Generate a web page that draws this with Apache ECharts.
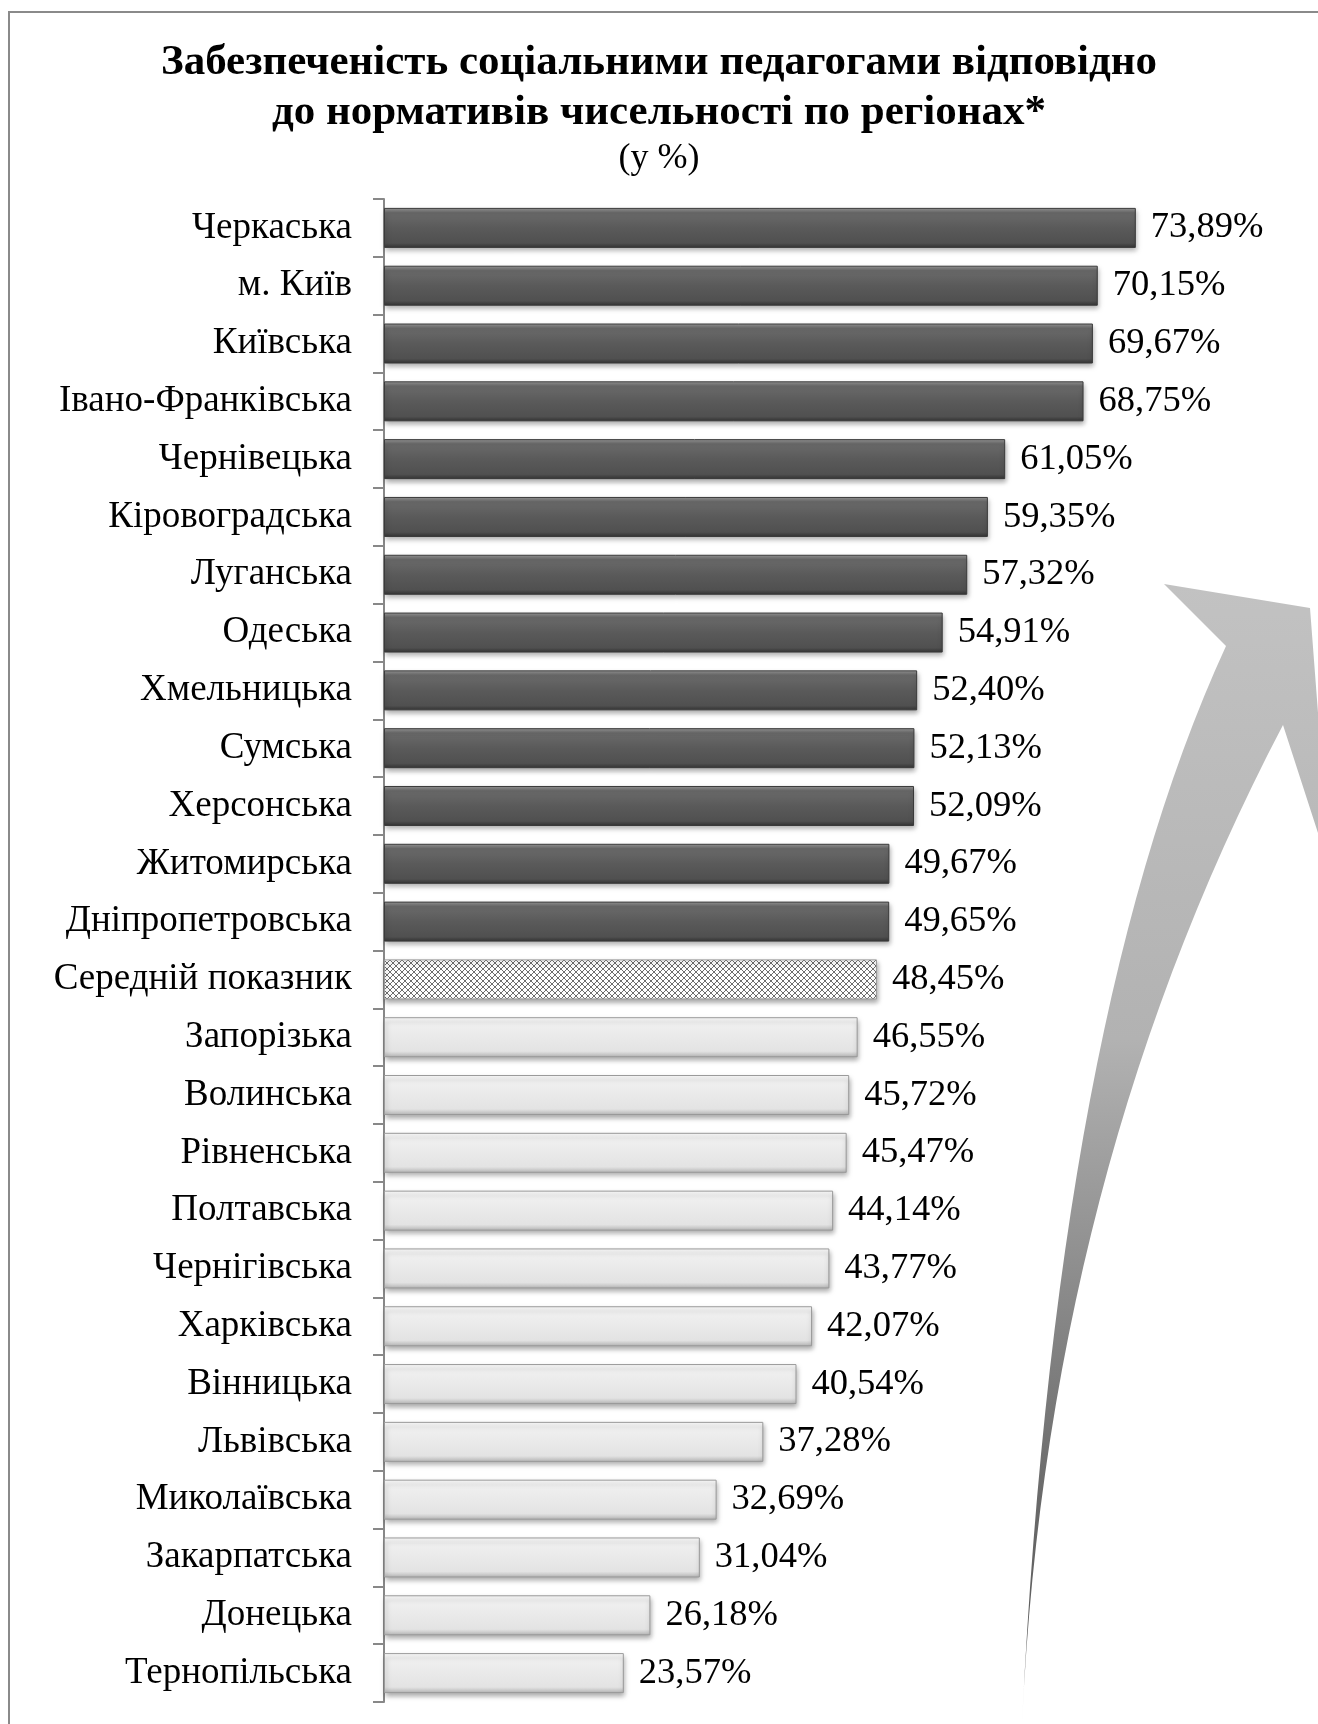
<!DOCTYPE html>
<html lang="uk">
<head>
    <meta charset="UTF-8">
    <title>Забезпеченість соціальними педагогами</title>
    <style>
        html, body { margin: 0; padding: 0; background: #fff; }
        #main { width: 1318px; height: 1724px; }
    </style>
    <script src="https://cdn.jsdelivr.net/npm/echarts@6/dist/echarts.min.js"></script>
</head>
<body>
<div id="main"></div>
<script>
    // регіони зверху вниз
    var regions = ['Черкаська', 'м. Київ', 'Київська', 'Івано-Франківська', 'Чернівецька',
        'Кіровоградська', 'Луганська', 'Одеська', 'Хмельницька', 'Сумська', 'Херсонська',
        'Житомирська', 'Дніпропетровська', 'Середній показник', 'Запорізька', 'Волинська',
        'Рівненська', 'Полтавська', 'Чернігівська', 'Харківська', 'Вінницька', 'Львівська',
        'Миколаївська', 'Закарпатська', 'Донецька', 'Тернопільська'];
    var values = [73.89, 70.15, 69.67, 68.75, 61.05, 59.35, 57.32, 54.91, 52.40, 52.13, 52.09,
        49.67, 49.65, 48.45, 46.55, 45.72, 45.47, 44.14, 43.77, 42.07, 40.54, 37.28,
        32.69, 31.04, 26.18, 23.57];
    var avgName = 'Середній показник';

    var serif = '"Liberation Serif", "Times New Roman", serif';

    // штрихування для середнього показника
    function hatch() {
        var c = document.createElement('canvas');
        c.width = 6; c.height = 6;
        var ctx = c.getContext('2d');
        ctx.fillStyle = '#fff';
        ctx.fillRect(0, 0, 6, 6);
        ctx.strokeStyle = '#6e6e6e';
        ctx.lineWidth = 1;
        ctx.beginPath();
        ctx.moveTo(0, 6); ctx.lineTo(6, 0);
        ctx.moveTo(0, 0); ctx.lineTo(6, 6);
        ctx.stroke();
        return c;
    }

    // квадратична крива -> точки для polygon
    function quad(p0, p1, p2, n) {
        var pts = [];
        for (var i = 0; i <= n; i++) {
            var t = i / n, a = (1 - t) * (1 - t), b = 2 * t * (1 - t), c = t * t;
            pts.push([a * p0[0] + b * p1[0] + c * p2[0], a * p0[1] + b * p1[1] + c * p2[1]]);
        }
        return pts;
    }
    var arrowPts = quad([1022, 1724], [1056, 1015], [1226, 646], 30)
        .concat([[1164, 584], [1310, 608], [1330, 870]])
        .concat(quad([1283, 725], [1047, 1175], [1022, 1724], 30));

    var avgValue = values[regions.indexOf(avgName)];
    var darkFill = {type: 'linear', x: 0, y: 0, x2: 0, y2: 1, colorStops: [
        {offset: 0, color: '#999'},
        {offset: 0.12, color: '#6a6a6a'},
        {offset: 0.5, color: '#5a5a5a'},
        {offset: 0.88, color: '#505050'},
        {offset: 1, color: '#333'}
    ]};
    var lightFill = {type: 'linear', x: 0, y: 0, x2: 0, y2: 1, colorStops: [
        {offset: 0, color: '#ffffff'},
        {offset: 0.15, color: '#f0f0f0'},
        {offset: 0.85, color: '#e3e3e3'},
        {offset: 1, color: '#b5b5b5'}
    ]};

    var barData = values.map(function (v, i) {
        var style;
        if (regions[i] === avgName) {
            style = {color: {image: hatch(), repeat: 'repeat'}, borderColor: '#999', borderWidth: 1};
        } else if (v > avgValue) {
            style = {color: darkFill, borderColor: '#3a3a3a', borderWidth: 1};
        } else {
            style = {color: lightFill, borderColor: '#9a9a9a', borderWidth: 1};
        }
        return {value: v, itemStyle: style};
    });

    var myChart = echarts.init(document.getElementById('main'));
    var option = {
        animation: false,
        title: [
            {
                text: 'Забезпеченість соціальними педагогами відповідно\nдо нормативів чисельності по регіонах*',
                left: 'center',
                top: 33,
                textStyle: {fontFamily: serif, fontSize: 43, fontWeight: 'bold', color: '#000', lineHeight: 50}
            },
            {
                text: '(у %)',
                left: 'center',
                top: 136,
                textStyle: {fontFamily: serif, fontSize: 36, fontWeight: 'normal', color: '#000'}
            }
        ],
        grid: {left: 384, right: 120, top: 199, bottom: 22, containLabel: false},
        xAxis: {
            type: 'value',
            min: 0,
            max: 80,
            show: false
        },
        yAxis: {
            type: 'category',
            inverse: true,
            data: regions,
            axisLine: {show: true, lineStyle: {color: '#888', width: 2}},
            axisTick: {show: true, inside: false, length: 11, lineStyle: {color: '#888', width: 2}},
            axisLabel: {fontFamily: serif, fontSize: 37, color: '#000', margin: 32}
        },
        graphic: [
            {
                type: 'rect',
                z: -10,
                shape: {x: 9, y: 12, width: 1400, height: 1800},
                style: {fill: 'none', stroke: '#8a8a8a', lineWidth: 2}
            },
            {
                // вигнута стрілка праворуч
                type: 'polygon',
                z: -5,
                shape: {points: arrowPts},
                style: {
                    fill: {type: 'linear', x: 0, y: 1, x2: 0, y2: 0, colorStops: [
                        {offset: 0, color: '#555'},
                        {offset: 0.2, color: '#6a6a6a'},
                        {offset: 0.6, color: '#b2b2b2'},
                        {offset: 1, color: '#c2c2c2'}
                    ]}
                }
            }
        ],
        series: [
            {
                type: 'bar',
                barWidth: 40,
                data: barData,
                itemStyle: {
                    shadowBlur: 5,
                    shadowOffsetY: 3,
                    shadowOffsetX: 1,
                    shadowColor: 'rgba(0,0,0,0.35)'
                },
                label: {
                    show: true,
                    position: 'right',
                    distance: 15,
                    fontFamily: serif,
                    fontSize: 36.5,
                    color: '#000',
                    formatter: function (p) {
                        return p.value.toFixed(2).replace('.', ',') + '%';
                    }
                }
            }
        ]
    };
    option && myChart.setOption(option);
</script>
</body>
</html>
